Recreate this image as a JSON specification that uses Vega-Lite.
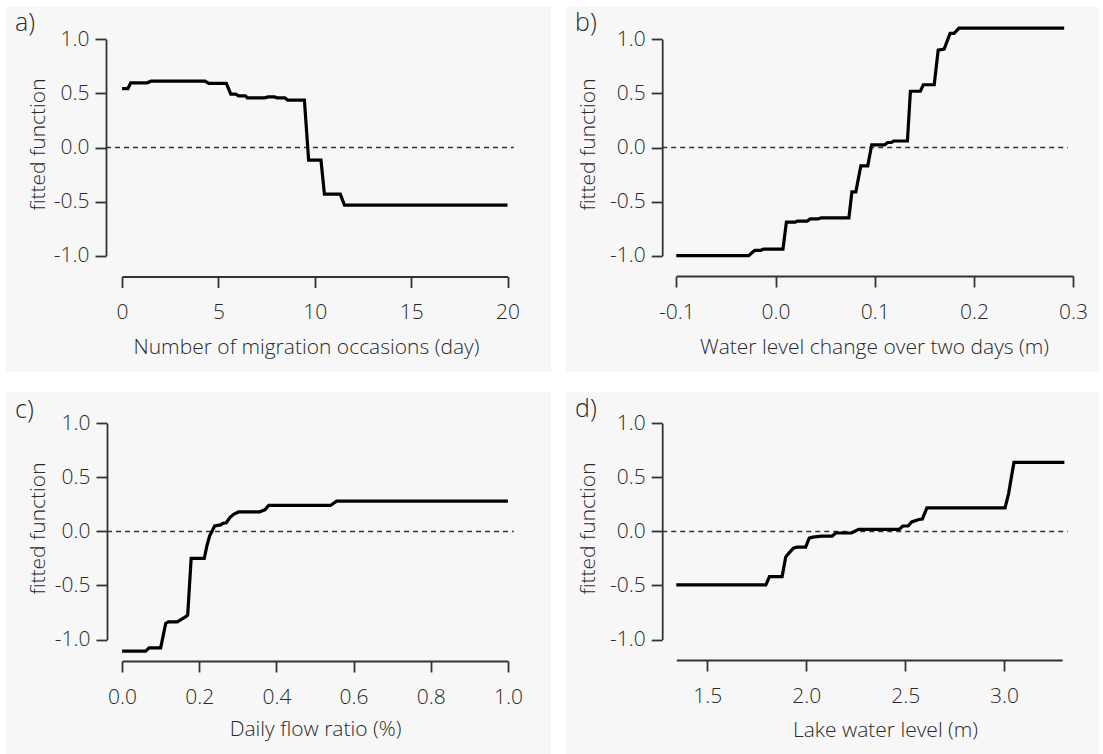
{
  "$schema": "https://vega.github.io/schema/vega-lite/v6.json",
  "background": "white",
  "padding": {"left": 6, "top": 7, "right": 0, "bottom": 0},
  "bounds": "flush",
  "columns": 2,
  "spacing": {"row": 20, "column": 15},
  "config": {
    "view": {"fill": "#f7f7f7", "stroke": null},
    "font": "Open Sans",
    "style": {"guide-label": {"fontSize": 21, "font": "Open Sans", "fontWeight": 300, "fill": "#2a2a2a"}},
    "axis": {
      "grid": false,
      "domainColor": "#333333",
      "domainWidth": 1.8,
      "tickColor": "#333333",
      "tickWidth": 1.8,
      "tickSize": 11,
      "labelFont": "Open Sans",
      "labelFontSize": 21,
      "labelFontWeight": 300,
      "labelColor": "#2a2a2a",
      "labelFlush": false,
      "labelOverlap": false,
      "labelBound": false,
      "titleFont": "Open Sans",
      "titleFontSize": 21,
      "titleFontWeight": 300,
      "titleColor": "#2a2a2a"
    },
    "axisX": {"labelFontSize": 21, "labelBaseline": "alphabetic", "labelPadding": 31, "titleBaseline": "alphabetic", "titleAlign": "center", "titleAnchor": null},
    "axisY": {"labelFontSize": 21, "labelBaseline": "middle", "labelPadding": 6, "titleBaseline": "middle", "titleAlign": "center", "titleAngle": 270, "titleAnchor": null},
    "title": {"font": "Open Sans", "fontSize": 25, "fontWeight": 300, "color": "#2a2a2a", "anchor": "start", "frame": "group", "baseline": "alphabetic"}
  },
  "datasets": {
    "a": [
      {"x": 0, "y": 0.545}, {"x": 0.3, "y": 0.545}, {"x": 0.45, "y": 0.598}, {"x": 1.3, "y": 0.598},
      {"x": 1.5, "y": 0.613}, {"x": 4.3, "y": 0.613}, {"x": 4.5, "y": 0.592}, {"x": 5.41, "y": 0.592},
      {"x": 5.64, "y": 0.493}, {"x": 5.9, "y": 0.493}, {"x": 6.04, "y": 0.478}, {"x": 6.4, "y": 0.478},
      {"x": 6.5, "y": 0.459}, {"x": 7.4, "y": 0.459}, {"x": 7.59, "y": 0.468}, {"x": 7.9, "y": 0.468},
      {"x": 8.05, "y": 0.459}, {"x": 8.45, "y": 0.459}, {"x": 8.59, "y": 0.438}, {"x": 9.46, "y": 0.438},
      {"x": 9.68, "y": -0.117}, {"x": 10.32, "y": -0.117}, {"x": 10.5, "y": -0.431}, {"x": 11.32, "y": -0.431},
      {"x": 11.54, "y": -0.533}, {"x": 20, "y": -0.533}
    ],
    "b": [
      {"x": -0.1, "y": -1.0}, {"x": -0.027, "y": -1.0}, {"x": -0.021, "y": -0.95}, {"x": -0.015, "y": -0.95},
      {"x": -0.012, "y": -0.94}, {"x": 0.0075, "y": -0.94}, {"x": 0.011, "y": -0.69}, {"x": 0.02, "y": -0.69},
      {"x": 0.022, "y": -0.68}, {"x": 0.032, "y": -0.68}, {"x": 0.035, "y": -0.66}, {"x": 0.043, "y": -0.66},
      {"x": 0.046, "y": -0.65}, {"x": 0.074, "y": -0.65}, {"x": 0.077, "y": -0.41}, {"x": 0.081, "y": -0.41},
      {"x": 0.086, "y": -0.17}, {"x": 0.093, "y": -0.17}, {"x": 0.097, "y": 0.025}, {"x": 0.11, "y": 0.025},
      {"x": 0.113, "y": 0.046}, {"x": 0.117, "y": 0.046}, {"x": 0.119, "y": 0.06}, {"x": 0.133, "y": 0.06},
      {"x": 0.136, "y": 0.52}, {"x": 0.146, "y": 0.52}, {"x": 0.149, "y": 0.58}, {"x": 0.16, "y": 0.58},
      {"x": 0.164, "y": 0.9}, {"x": 0.17, "y": 0.91}, {"x": 0.176, "y": 1.054}, {"x": 0.18, "y": 1.054},
      {"x": 0.185, "y": 1.103}, {"x": 0.291, "y": 1.103}
    ],
    "c": [
      {"x": 0, "y": -1.108}, {"x": 0.061, "y": -1.108}, {"x": 0.07, "y": -1.077}, {"x": 0.1, "y": -1.077},
      {"x": 0.113, "y": -0.852}, {"x": 0.12, "y": -0.837}, {"x": 0.143, "y": -0.837}, {"x": 0.164, "y": -0.79},
      {"x": 0.17, "y": -0.775}, {"x": 0.179, "y": -0.25}, {"x": 0.213, "y": -0.25}, {"x": 0.22, "y": -0.13},
      {"x": 0.227, "y": -0.04}, {"x": 0.24, "y": 0.05}, {"x": 0.255, "y": 0.06}, {"x": 0.262, "y": 0.075},
      {"x": 0.27, "y": 0.08}, {"x": 0.28, "y": 0.13}, {"x": 0.29, "y": 0.16}, {"x": 0.302, "y": 0.18},
      {"x": 0.356, "y": 0.18}, {"x": 0.37, "y": 0.2}, {"x": 0.38, "y": 0.24}, {"x": 0.54, "y": 0.24},
      {"x": 0.556, "y": 0.28}, {"x": 1.0, "y": 0.28}
    ],
    "d": [
      {"x": 1.343, "y": -0.495}, {"x": 1.796, "y": -0.495}, {"x": 1.814, "y": -0.418}, {"x": 1.878, "y": -0.418},
      {"x": 1.896, "y": -0.238}, {"x": 1.908, "y": -0.21}, {"x": 1.935, "y": -0.155}, {"x": 1.953, "y": -0.145},
      {"x": 1.997, "y": -0.145}, {"x": 2.015, "y": -0.062}, {"x": 2.033, "y": -0.053}, {"x": 2.077, "y": -0.043},
      {"x": 2.131, "y": -0.043}, {"x": 2.149, "y": -0.015}, {"x": 2.229, "y": -0.015}, {"x": 2.265, "y": 0.019},
      {"x": 2.47, "y": 0.019}, {"x": 2.488, "y": 0.05}, {"x": 2.515, "y": 0.05}, {"x": 2.533, "y": 0.087},
      {"x": 2.569, "y": 0.11}, {"x": 2.587, "y": 0.115}, {"x": 2.61, "y": 0.217}, {"x": 3.005, "y": 0.217},
      {"x": 3.023, "y": 0.35}, {"x": 3.05, "y": 0.638}, {"x": 3.305, "y": 0.638}
    ],
    "zero_a": [{"x0": -0.836, "x1": 20.33}],
    "zero_b": [{"x0": -0.1142, "x1": 0.2947}],
    "zero_c": [{"x0": -0.039, "x1": 1.0155}],
    "zero_d": [{"x0": 1.272, "x1": 3.3225}]
  },
  "concat": [
    {
      "width": 545, "height": 365,
      "title": {"text": "a)", "offset": -29, "dx": 9},
      "layer": [
        {
          "data": {"name": "zero_a"},
          "mark": {"type": "rule", "color": "#333333", "strokeWidth": 1.5, "strokeDash": [5, 4]},
          "encoding": {
            "x": {"field": "x0", "type": "quantitative"},
            "x2": {"field": "x1"},
            "y": {"datum": 0, "type": "quantitative"}
          }
        },
        {
          "data": {"name": "a"},
          "mark": {"type": "line", "color": "black", "strokeWidth": 3.2},
          "encoding": {
            "x": {"field": "x", "type": "quantitative",
              "scale": {"domain": [0, 20], "range": [116.1, 501.5], "nice": false, "zero": false},
              "axis": {"values": [0, 5, 10, 15, 20], "format": "d", "offset": -95.5, "labelFontSize": 21,
                "title": "Number of migration occasions (day)", "titleX": 300, "titleY": 76.5}},
            "y": {"field": "y", "type": "quantitative",
              "scale": {"domain": [-1, 1], "range": [248.7, 32.3], "nice": false, "zero": false},
              "axis": {"values": [-1, -0.5, 0, 0.5, 1], "labelExpr": "replace(format(datum.value, '.1f'), '\u2212', '-')", "offset": -100, "labelFontSize": 21,
                "title": "fitted function", "titleX": -68, "titleY": 137}}
          }
        }
      ]
    },
    {
      "width": 533, "height": 365,
      "title": {"text": "b)", "offset": -29, "dx": 9},
      "layer": [
        {
          "data": {"name": "zero_b"},
          "mark": {"type": "rule", "color": "#333333", "strokeWidth": 1.5, "strokeDash": [5, 4]},
          "encoding": {
            "x": {"field": "x0", "type": "quantitative"},
            "x2": {"field": "x1"},
            "y": {"datum": 0, "type": "quantitative"}
          }
        },
        {
          "data": {"name": "b"},
          "mark": {"type": "line", "color": "black", "strokeWidth": 3.2},
          "encoding": {
            "x": {"field": "x", "type": "quantitative",
              "scale": {"domain": [-0.1, 0.3], "range": [110.3, 507.1], "nice": false, "zero": false},
              "axis": {"values": [-0.1, 0, 0.1, 0.2, 0.3], "labelExpr": "replace(format(datum.value, '.1f'), '\u2212', '-')", "offset": -96, "labelFontSize": 21,
                "title": "Water level change over two days (m)", "titleX": 308, "titleY": 77}},
            "y": {"field": "y", "type": "quantitative",
              "scale": {"domain": [-1, 1], "range": [248.7, 32.3], "nice": false, "zero": false},
              "axis": {"values": [-1, -0.5, 0, 0.5, 1], "labelExpr": "replace(format(datum.value, '.1f'), '\u2212', '-')", "offset": -96.2, "labelFontSize": 21,
                "title": "fitted function", "titleX": -74, "titleY": 137}}
          }
        }
      ]
    },
    {
      "width": 545, "height": 362,
      "title": {"text": "c)", "offset": -31, "dx": 9},
      "layer": [
        {
          "data": {"name": "zero_c"},
          "mark": {"type": "rule", "color": "#333333", "strokeWidth": 1.5, "strokeDash": [5, 4]},
          "encoding": {
            "x": {"field": "x0", "type": "quantitative"},
            "x2": {"field": "x1"},
            "y": {"datum": 0, "type": "quantitative"}
          }
        },
        {
          "data": {"name": "c"},
          "mark": {"type": "line", "color": "black", "strokeWidth": 3.2},
          "encoding": {
            "x": {"field": "x", "type": "quantitative",
              "scale": {"domain": [0, 1], "range": [116.1, 501.9], "nice": false, "zero": false},
              "axis": {"values": [0, 0.2, 0.4, 0.6, 0.8, 1.0], "format": ".1f", "offset": -93, "labelFontSize": 21,
                "title": "Daily flow ratio (%)", "titleX": 309, "titleY": 74}},
            "y": {"field": "y", "type": "quantitative",
              "scale": {"domain": [-1, 1], "range": [247.5, 31.3], "nice": false, "zero": false},
              "axis": {"values": [-1, -0.5, 0, 0.5, 1], "labelExpr": "replace(format(datum.value, '.1f'), '\u2212', '-')", "offset": -101, "labelFontSize": 21,
                "title": "fitted function", "titleX": -69, "titleY": 136}}
          }
        }
      ]
    },
    {
      "width": 533, "height": 362,
      "title": {"text": "d)", "offset": -30, "dx": 9},
      "layer": [
        {
          "data": {"name": "zero_d"},
          "mark": {"type": "rule", "color": "#333333", "strokeWidth": 1.5, "strokeDash": [5, 4]},
          "encoding": {
            "x": {"field": "x0", "type": "quantitative"},
            "x2": {"field": "x1"},
            "y": {"datum": 0, "type": "quantitative"}
          }
        },
        {
          "data": {"name": "d"},
          "mark": {"type": "line", "color": "black", "strokeWidth": 3.2},
          "encoding": {
            "x": {"field": "x", "type": "quantitative",
              "scale": {"domain": [1.343, 3.294], "range": [110.3, 496.2], "nice": false, "zero": false},
              "axis": {"values": [1.5, 2.0, 2.5, 3.0], "format": ".1f", "offset": -94, "labelFontSize": 21,
                "title": "Lake water level (m)", "titleX": 319, "titleY": 76}},
            "y": {"field": "y", "type": "quantitative",
              "scale": {"domain": [-1, 1], "range": [247.5, 31.3], "nice": false, "zero": false},
              "axis": {"values": [-1, -0.5, 0, 0.5, 1], "labelExpr": "replace(format(datum.value, '.1f'), '\u2212', '-')", "offset": -96.2, "labelFontSize": 21,
                "title": "fitted function", "titleX": -74, "titleY": 136}}
          }
        }
      ]
    }
  ]
}
